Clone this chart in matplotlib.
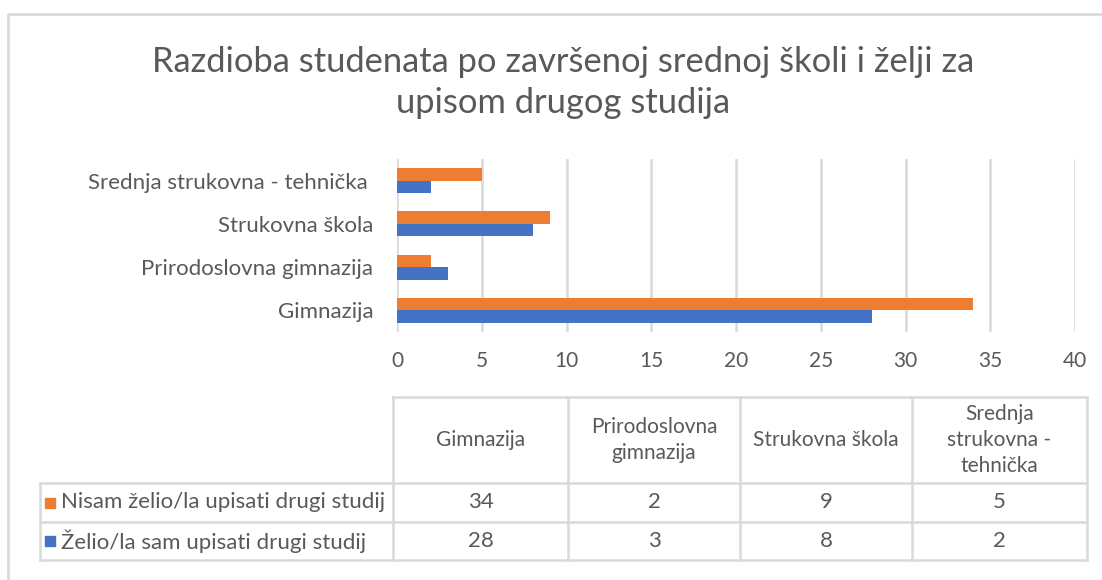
import matplotlib.pyplot as plt
from matplotlib.patches import Rectangle
import numpy as np

plt.rcParams['font.family'] = ['Lato', 'DejaVu Sans']

# podaci
categories = ['Gimnazija', 'Prirodoslovna gimnazija', 'Strukovna škola', 'Srednja strukovna - tehnička ']
header_labels = ['Gimnazija', 'Prirodoslovna\ngimnazija', 'Strukovna škola', 'Srednja\nstrukovna -\ntehnička']
series_names = ['Nisam želio/la upisati drugi studij', 'Želio/la sam upisati drugi studij']
nisam = [34, 2, 9, 5]
zelio = [28, 3, 8, 2]
colors = ['#ED7D31', '#4472C4']
x_ticks = [0, 5, 10, 15, 20, 25, 30, 35, 40]

title_lines = ['Razdioba studenata po završenoj srednoj školi i želji za', 'upisom drugog studija']
text_color = '#595959'
line_color = '#d9d9d9'

W, H = 1102, 580
fig = plt.figure(figsize=(W / 100, H / 100), dpi=100)

# pozadina, okvir i tablica u pikselima
bg = fig.add_axes([0, 0, 1, 1])
bg.set_xlim(0, W)
bg.set_ylim(H, 0)
bg.axis('off')
bg.plot([8, 8, W], [H, 14, 14], color=line_color, lw=2)

for ty, line in zip([62, 103], title_lines):
    bg.text(563, ty, line, ha='center', va='center', fontsize=24.8, color=text_color)

# graf
ax = fig.add_axes([397 / W, 1 - 332 / H, (1075 - 397) / W, (332 - 159) / H])
y = np.arange(len(categories))
h = 0.29
ax.barh(y + h / 2, nisam, height=h, color=colors[0])
ax.barh(y - h / 2, zelio, height=h, color=colors[1])
ax.set_xlim(0, 40)
ax.set_ylim(-0.5, len(categories) - 0.5)
ax.set_xticks(x_ticks)
ax.set_yticks(y)
ax.set_yticklabels(categories)
ax.grid(axis='x', color=line_color, lw=1.8)
ax.set_axisbelow(True)
for s in ax.spines.values():
    s.set_visible(False)
ax.tick_params(axis='x', length=0, pad=14, labelsize=15, labelcolor=text_color)
ax.tick_params(axis='y', length=0, pad=17, labelsize=16, labelcolor=text_color)

# tablica s podacima
col_x = [393, 568, 740, 912, 1087]
row_y = [397, 483, 522, 560]
left_x = 40
bg.plot([col_x[0], col_x[-1]], [row_y[0], row_y[0]], color=line_color, lw=1.8)
for ry in row_y[1:]:
    bg.plot([left_x, col_x[-1]], [ry, ry], color=line_color, lw=1.8)
for cx in col_x:
    bg.plot([cx, cx], [row_y[0], row_y[-1]], color=line_color, lw=1.8)
bg.plot([left_x, left_x], [row_y[1], row_y[-1]], color=line_color, lw=1.8)

for i, lab in enumerate(header_labels):
    cx = (col_x[i] + col_x[i + 1]) / 2
    bg.text(cx, (row_y[0] + row_y[1]) / 2, lab, ha='center', va='center',
            fontsize=15, color=text_color, linespacing=1.4)

for r, (name, vals) in enumerate(zip(series_names, [nisam, zelio])):
    cy = (row_y[r + 1] + row_y[r + 2]) / 2
    bg.add_patch(Rectangle((45, cy - 5), 10, 10, color=colors[r]))
    bg.text(61, cy, name, ha='left', va='center', fontsize=16, color=text_color)
    for i, v in enumerate(vals):
        cx = (col_x[i] + col_x[i + 1]) / 2
        bg.text(cx, cy, str(v), ha='center', va='center', fontsize=16, color=text_color)

fig.savefig('out.png', dpi=100)
